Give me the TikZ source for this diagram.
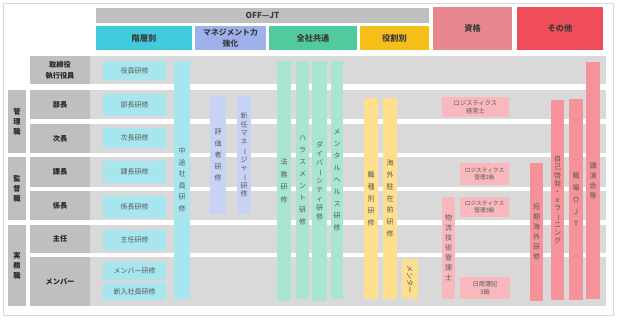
\documentclass[tikz,border=0pt]{standalone}
\usepackage{fontspec}
\setmainfont{Noto Sans CJK JP}
\definecolor{rowbg}{HTML}{D9D9D9}
\definecolor{lblbg}{HTML}{BFBFBF}
\definecolor{hA}{HTML}{42CBDC}
\definecolor{hB}{HTML}{9EB1EB}
\definecolor{hC}{HTML}{51CA9E}
\definecolor{hD}{HTML}{F5BE19}
\definecolor{hE}{HTML}{E9878E}
\definecolor{hF}{HTML}{F04D5A}
\definecolor{lA}{HTML}{A8E6EF}
\definecolor{lB}{HTML}{C6D3F5}
\definecolor{lC}{HTML}{A8E6D1}
\definecolor{lD}{HTML}{FDDF8E}
\definecolor{lE}{HTML}{F8B8BC}
\definecolor{lF}{HTML}{F5929A}
\definecolor{txH}{HTML}{3A3A3A}
\definecolor{txT}{HTML}{595959}
\definecolor{txL}{HTML}{262626}
\newcommand{\Bx}[6]{\node[#1, inner sep=0pt, outer sep=0pt, align=center,
  minimum width={(#4)-(#2)}, minimum height={(#5)-(#3)}] (#6) at ({((#2)+(#4))/2},{((#3)+(#5))/2})}
\newcommand{\vch}{\rotatebox[origin=c]{-90}{ー}}
\tikzset{
  rowb/.style={fill=rowbg},
  lblb/.style={fill=lblbg, text=txL, font=\fontsize{7.2}{11}\selectfont\bfseries},
  grpb/.style={fill=lblbg, text=txL, font=\fontsize{7.2}{10}\selectfont\bfseries},
  hdr/.style={text=txH, font=\fontsize{8.2}{11}\selectfont\bfseries},
  trn/.style={text=txT, font=\fontsize{7}{8.5}\selectfont},
  vt/.style={text=txT, font=\fontsize{7}{#1}\selectfont},
  vt/.default=11.5,
  sml/.style={text=txT, font=\fontsize{5.7}{7}\selectfont},
}
\begin{document}
\begin{tikzpicture}[x=1pt,y=-1pt]
\useasboundingbox (0,0) rectangle (618,319);
\fill[white] (0,0) rectangle (618,319);
\draw[draw=black!15, line width=0.8pt] (3,3) rectangle (613,315);
% headers
\Bx{hdr,fill=lblbg}{96}{8}{429}{23}{offjt}{OFF—JT};
\Bx{hdr,fill=hA}{96}{26}{192}{50}{hkaiso}{階層別};
\Bx{hdr,fill=hB,font=\fontsize{7.8}{10.5}\selectfont\bfseries}{195}{26}{266}{50}{hmgmt}{マネジメント力\\強化};
\Bx{hdr,fill=hC}{269}{26}{357}{50}{hzensha}{全社共通};
\Bx{hdr,fill=hD}{360}{26}{429}{50}{hyaku}{役割別};
\Bx{hdr,fill=hE}{433}{7}{512}{50}{hshikaku}{資格};
\Bx{hdr,fill=hF}{517}{7}{603}{50}{hsonota}{その他};
% rows
\Bx{rowb}{30}{56}{606}{84}{r1}{};
\Bx{rowb}{30}{90}{606}{119}{r2}{};
\Bx{rowb}{30}{124}{606}{153}{r3}{};
\Bx{rowb}{30}{157}{606}{187}{r4}{};
\Bx{rowb}{30}{191}{606}{220}{r5}{};
\Bx{rowb}{30}{225}{606}{253}{r6}{};
\Bx{rowb}{30}{257}{606}{306}{r7}{};
% row labels
\Bx{lblb}{30}{56}{90}{84}{l1}{取締役\\執行役員};
\Bx{lblb}{30}{90}{90}{119}{l2}{部長};
\Bx{lblb}{30}{124}{90}{153}{l3}{次長};
\Bx{lblb}{30}{157}{90}{187}{l4}{課長};
\Bx{lblb}{30}{191}{90}{220}{l5}{係長};
\Bx{lblb}{30}{225}{90}{253}{l6}{主任};
\Bx{lblb}{30}{257}{90}{306}{l7}{メンバー};
% groups
\Bx{grpb}{8}{90}{26}{153}{g1}{管\\理\\職};
\Bx{grpb}{8}{157}{26}{220}{g2}{監\\督\\職};
\Bx{grpb}{8}{225}{26}{306}{g3}{実\\務\\職};
% 階層別
\Bx{trn,fill=lA}{103}{61}{166}{80}{t1}{役員研修};
\Bx{trn,fill=lA}{103}{94}{166}{116}{t2}{部長研修};
\Bx{trn,fill=lA}{103}{128}{166}{148}{t3}{次長研修};
\Bx{trn,fill=lA}{103}{161}{166}{183}{t4}{課長研修};
\Bx{trn,fill=lA}{103}{196}{166}{218}{t5}{係長研修};
\Bx{trn,fill=lA}{103}{230}{166}{250}{t6}{主任研修};
\Bx{trn,fill=lA}{103}{262}{166}{280}{t7}{メンバー研修};
\Bx{trn,fill=lA}{103}{283}{166}{300}{t8}{新入社員研修};
\Bx{vt,fill=lA}{174}{61}{190}{299}{chuto}{中\\途\\社\\員\\研\\修};
% マネジメント力強化
\Bx{vt,fill=lB}{210}{96}{226}{214}{hyoka}{評\\価\\者\\研\\修};
\Bx{vt=8.7,fill=lB}{237}{96}{251}{214}{shinnin}{新\\任\\マ\\ネ\\\vch\\ジ\\ャ\\\vch\\研\\修};
% 全社共通
\Bx{vt=12.5,fill=lC}{277}{61}{291}{301}{homu}{法\\務\\研\\修};
\Bx{vt=12,fill=lC}{296}{61}{309}{299}{harasu}{ハ\\ラ\\ス\\メ\\ン\\ト\\研\\修};
\Bx{vt=9,fill=lC}{312}{61}{327}{301}{diver}{ダ\\イ\\バ\\\vch\\シ\\テ\\ィ\\研\\修};
\Bx{vt=12,fill=lC}{331}{61}{343}{299}{mental}{メ\\ン\\タ\\ル\\ヘ\\ル\\ス\\研\\修};
% 役割別
\Bx{vt=12,fill=lD}{364}{98}{378}{299}{shokushu}{職\\種\\別\\研\\修};
\Bx{vt=11.8,fill=lD}{383}{98}{397}{299}{kaigai}{海\\外\\駐\\在\\前\\研\\修};
\Bx{fill=lD}{402}{259}{418}{299}{mentor}{};
\node[trn, rotate=-90] (mentortx) at (mentor.center) {メンター};
% 資格
\Bx{trn,fill=lE,font=\fontsize{6.3}{7.5}\selectfont}{442}{97}{509}{117}{keiei}{ロジスティクス\\経営士};
\Bx{sml,fill=lE}{460}{163}{509}{185}{kanri2}{ロジスティクス\\管理2級};
\Bx{sml,fill=lE}{460}{197}{509}{217}{kanri3}{ロジスティクス\\管理3級};
\Bx{vt=10,fill=lE}{442}{197}{455}{299}{butsuryu}{物\\流\\技\\術\\管\\理\\士};
\Bx{sml,fill=lE,font=\fontsize{6.2}{7.5}\selectfont}{460}{277}{510}{299}{boki}{日商簿記\\3級};
% その他
\Bx{vt=10,fill=lF}{530}{163}{543}{301}{tanki}{短\\期\\海\\外\\研\\修};
\Bx{vt=8.2,fill=lF}{551}{100}{564}{300}{jiko}{自\\己\\啓\\発\\・\\e\\ラ\\\vch\\ニ\\ン\\グ};
\Bx{vt=12,fill=lF}{569}{99}{583}{300}{ojt}{職\\場\\Ｏ\\Ｊ\\Ｔ};
\Bx{vt=10,fill=lF}{586}{62}{600}{299}{koen}{講\\演\\会\\等};
\end{tikzpicture}
\end{document}
